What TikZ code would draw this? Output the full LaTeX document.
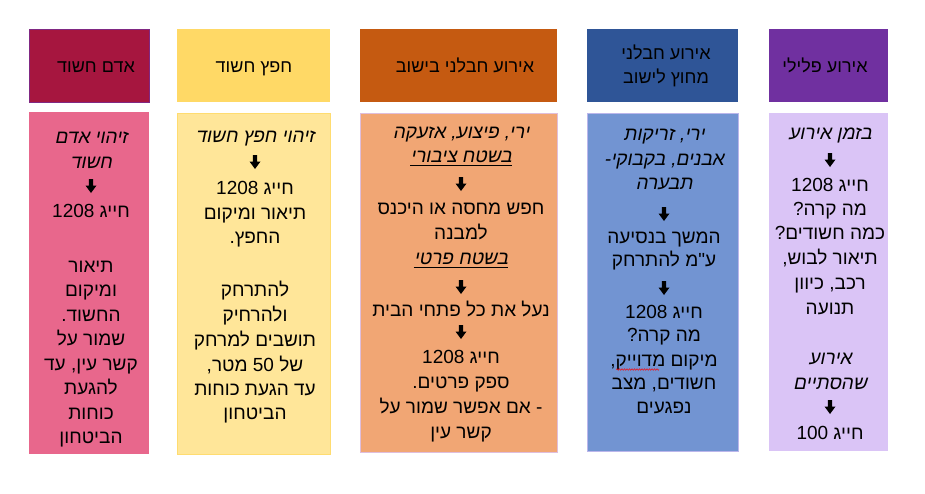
\documentclass[tikz,border=0pt]{standalone}
\usepackage{fontspec}
\setmainfont{Liberation Sans}
\newfontfamily\heb[Script=Hebrew]{Liberation Sans}
\newfontfamily\hebit[Script=Hebrew,FakeSlant=0.2]{Liberation Sans}
\TeXXeTstate=1
\usetikzlibrary{decorations.pathmorphing}
\newcommand\hb[1]{\beginR #1\endR}
\newcommand\pu[1]{\hbox{#1}}
\definecolor{hA}{RGB}{166,22,63}
\definecolor{bA}{RGB}{232,103,140}
\definecolor{hB}{RGB}{255,217,102}
\definecolor{bB}{RGB}{255,230,153}
\definecolor{hC}{RGB}{197,90,17}
\definecolor{bC}{RGB}{241,166,116}
\definecolor{hD}{RGB}{47,85,151}
\definecolor{bD}{RGB}{114,148,210}
\definecolor{hE}{RGB}{112,48,160}
\definecolor{bE}{RGB}{218,196,246}
\tikzset{
  hdr/.style={font=\heb\fontsize{18}{21}\selectfont, text=black, inner sep=0pt, anchor=base},
  bt/.style={font=\heb\fontsize{19}{22}\selectfont, text=black, inner sep=0pt, anchor=base},
  it/.style={font=\hebit\fontsize{19}{22}\selectfont, text=black, inner sep=0pt, anchor=base},
  uline/.style={black, line width=0.8pt},
  dnarrow/.style={inner sep=0pt, minimum width=11pt, minimum height=14pt,
    path picture={\fill[black]
      ([xshift=-2.2pt]path picture bounding box.north) --
      ([xshift=2.2pt]path picture bounding box.north) --
      ([xshift=2.2pt,yshift=0.5pt]path picture bounding box.center) --
      ([yshift=0.5pt]path picture bounding box.east) --
      (path picture bounding box.south) --
      ([yshift=0.5pt]path picture bounding box.west) --
      ([xshift=-2.2pt,yshift=0.5pt]path picture bounding box.center) -- cycle;}},
  box/.style={line width=0.75pt}
}
\begin{document}
\begin{tikzpicture}[x=1pt,y=-1pt]
\fill[white] (0,0) rectangle (925,493);
\useasboundingbox (0,0) rectangle (925,493);
% header boxes
\filldraw[box, fill=hA, draw=hE!70!hA] (29,29) rectangle (149,102);
\fill[hB] (177,29) rectangle (330,102);
\fill[hC] (360,29) rectangle (557,102);
\fill[hD] (587,29) rectangle (738,102);
\fill[hE] (769,29) rectangle (888,102);
% body boxes
\fill[bA] (29,112) rectangle (149,454);
\filldraw[box, fill=bB, draw=hB!80!bB] (177,113) rectangle (330,454);
\filldraw[box, fill=bC, draw=bE!80!bC] (360,113) rectangle (557,452);
\filldraw[box, fill=bD, draw=bE!70!bD] (587,113) rectangle (738,451);
\fill[bE] (769,113) rectangle (888,451);
% headers text
\node[hdr] (h1) at (96,72) {\hb{אדם חשוד}};
\node[hdr] (h2) at (254,72) {\hb{חפץ חשוד}};
\node[hdr] (h3) at (465,72) {\hb{אירוע חבלני בישוב}};
\node[hdr] (h4a) at (666,59) {\hb{אירוע חבלני}};
\node[hdr] (h4b) at (666,83) {\hb{מחוץ לישוב}};
\node[hdr] (h5) at (825,72) {\hb{אירוע פלילי}};
% column 1
\node[it] (a1) at (91,143.5) {\hb{זיהוי אדם}};
\node[it] (a2) at (91,168) {\hb{חשוד}};
\node[dnarrow] (a3) at (91,186) {};
\node[bt] (a4) at (91,217) {\hb{חייג 1208}};
\node[bt] (a5) at (91,272) {\hb{תיאור}};
\node[bt] (a6) at (91,296.5) {\hb{ומיקום}};
\node[bt] (a7) at (91,321) {\hb{החשוד\pu{.}}};
\node[bt] (a8) at (91,345.5) {\hb{שמור על}};
\node[bt] (a9) at (91,370) {\hb{קשר עין\pu{,} עד}};
\node[bt] (a10) at (91,394.5) {\hb{להגעת}};
\node[bt] (a11) at (91,419) {\hb{כוחות}};
\node[bt] (a12) at (91,443.5) {\hb{הביטחון}};
% column 2
\node[it] (b1) at (255,142.5) {\hb{זיהוי חפץ חשוד}};
\node[dnarrow] (b2) at (255,162) {};
\node[bt] (b3) at (255,194.5) {\hb{חייג 1208}};
\node[bt] (b4) at (255,219.5) {\hb{תיאור ומיקום}};
\node[bt] (b5) at (255,243.5) {\hb{החפץ\pu{.}}};
\node[bt] (b6) at (255,296.5) {\hb{להתרחק}};
\node[bt] (b7) at (255,321.5) {\hb{ולהרחיק}};
\node[bt] (b8) at (255,346.5) {\hb{תושבים למרחק}};
\node[bt] (b9) at (255,371.5) {\hb{של 50 מטר\pu{,}}};
\node[bt] (b10) at (255,395.5) {\hb{עד הגעת כוחות}};
\node[bt] (b11) at (255,419.5) {\hb{הביטחון}};
% column 3
\node[it] (c1) at (461,138.5) {\hb{ירי\pu{,} פיצוע\pu{,} אזעקה}};
\node[it] (c2) at (461,162.5) {\hb{בשטח ציבורי}};
\draw[uline] ([yshift=-3pt]c2.base west) -- ([yshift=-3pt]c2.base east);
\node[dnarrow] (c3) at (461,184) {};
\node[bt] (c4) at (461,214.5) {\hb{חפש מחסה או היכנס}};
\node[bt] (c5) at (461,239.5) {\hb{למבנה}};
\node[it] (c6) at (461,264.5) {\hb{בשטח פרטי}};
\draw[uline] ([yshift=-3pt]c6.base west) -- ([yshift=-3pt]c6.base east);
\node[dnarrow] (c7) at (461,287) {};
\node[bt] (c8) at (461,316.5) {\hb{נעל את כל פתחי הבית}};
\node[dnarrow] (c9) at (461,332) {};
\node[bt] (c10) at (461,363.5) {\hb{חייג 1208}};
\node[bt] (c11) at (461,388.5) {\hb{ספק פרטים\pu{.}}};
\node[bt] (c12) at (461,413.5) {\hb{\pu{-} אם אפשר שמור על}};
\node[bt] (c13) at (461,438.5) {\hb{קשר עין}};
% column 4
\node[it] (d1) at (664,140.5) {\hb{ירי\pu{,} זריקות}};
\node[it] (d2) at (664,165.5) {\hb{אבנים\pu{,} בקבוקי\pu{-}}};
\node[it] (d3) at (664,189.5) {\hb{תבערה}};
\node[dnarrow] (d4) at (664,214) {};
\node[bt] (d5) at (664,243.5) {\hb{המשך בנסיעה}};
\node[bt] (d6) at (664,266.5) {\hb{ע"מ להתרחק}};
\node[dnarrow] (d7) at (664,288) {};
\node[bt] (d8) at (664,318.5) {\hb{חייג 1208}};
\node[bt] (d9) at (664,341.5) {\hb{מה קרה\pu{?}}};
\node[bt] (d10) at (664,366.5) {\hb{מיקום מדוייק\pu{,}}};
\draw[red, line width=0.5pt, decorate, decoration={snake, amplitude=0.7pt, segment length=2.5pt}]
  ([xshift=6pt,yshift=-3pt]d10.base west) -- ([xshift=49pt,yshift=-3pt]d10.base west);
\node[bt] (d11) at (664,389.5) {\hb{חשודים\pu{,} מצב}};
\node[bt] (d12) at (664,413.5) {\hb{נפגעים}};
% column 5
\node[it] (e1) at (830,139.5) {\hb{בזמן אירוע}};
\node[dnarrow] (e2) at (830,160) {};
\node[bt] (e3) at (830,191.5) {\hb{חייג 1208}};
\node[bt] (e4) at (830,215.5) {\hb{מה קרה\pu{?}}};
\node[bt] (e5) at (830,239.5) {\hb{כמה חשודים\pu{?}}};
\node[bt] (e6) at (830,264.5) {\hb{תיאור לבוש\pu{,}}};
\node[bt] (e7) at (830,289.5) {\hb{רכב\pu{,} כיוון}};
\node[bt] (e8) at (830,314.5) {\hb{תנועה}};
\node[it] (e9) at (830,364.5) {\hb{אירוע}};
\node[it] (e10) at (830,389.5) {\hb{שהסתיים}};
\node[dnarrow] (e11) at (830,407) {};
\node[bt] (e12) at (830,439.5) {\hb{חייג 100}};
\end{tikzpicture}
\end{document}
